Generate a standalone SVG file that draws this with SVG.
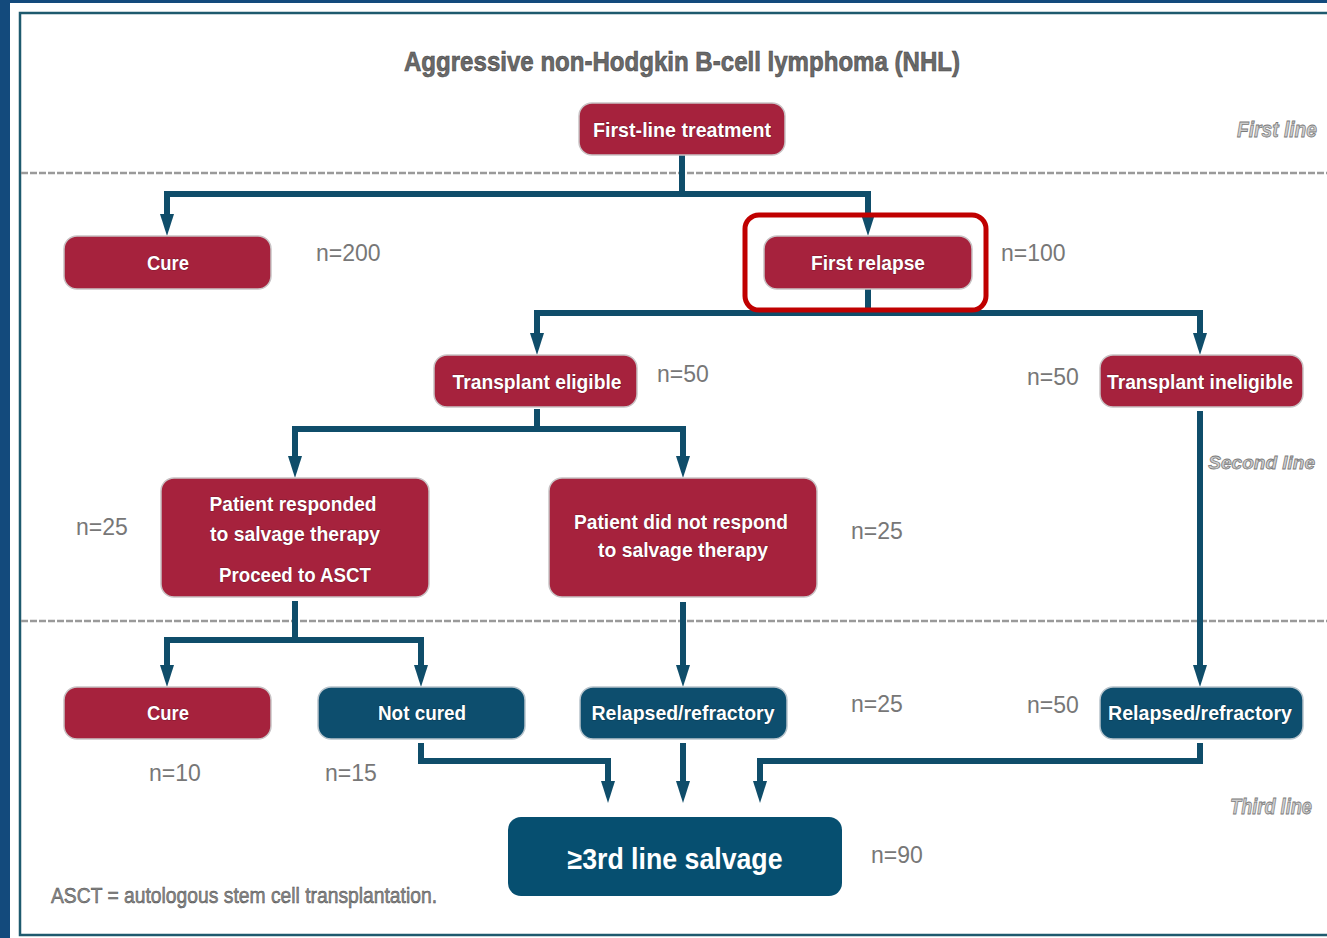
<svg xmlns="http://www.w3.org/2000/svg" width="1327" height="938" viewBox="0 0 1327 938">
<defs>
<marker id="arr" markerUnits="userSpaceOnUse" markerWidth="24" markerHeight="16" viewBox="0 -8 24 16" refX="0" refY="0" orient="auto">
<path d="M0,-7 L22,0 L0,7 z" fill="#0f4d6a"/>
</marker>
<style>
.red{fill:#a6223d;stroke:#c9c3c5;stroke-width:1.5}
.blue{fill:#0d4e6e;stroke:#b8c4cc;stroke-width:1.5}
.bt{font-family:"Liberation Sans",Arial,sans-serif;font-weight:bold;font-size:21px;fill:#fff;text-anchor:middle;stroke:#5a1020;stroke-width:1.2;paint-order:stroke;stroke-opacity:0.55}
.bb{stroke:#06283a}
.n{font-family:"Liberation Sans",Arial,sans-serif;font-size:23px;fill:#777}
.side{font-family:"Liberation Sans",Arial,sans-serif;font-weight:bold;font-style:italic;font-size:22px;fill:#cfcfcf;stroke:#7a7a7a;stroke-width:0.8;text-anchor:end}
.dash{stroke:#9a9a9a;stroke-width:2.5;stroke-dasharray:7 2;fill:none}
.con{fill:none;stroke:#0f4d6a;stroke-width:6;stroke-linejoin:miter}
</style>
</defs>
<rect x="0" y="0" width="1327" height="938" fill="#134a7c"/>
<rect x="10" y="3" width="1317" height="935" fill="#fff"/>
<rect x="20" y="13" width="1320" height="922" fill="none" stroke="#1e5a6e" stroke-width="2.5"/>

<text x="682" y="71" font-family="Liberation Sans, Arial, sans-serif" font-weight="bold" font-size="28" fill="#6a6a6a" stroke="#444" stroke-width="0.6" text-anchor="middle" textLength="556" lengthAdjust="spacingAndGlyphs">Aggressive non-Hodgkin B-cell lymphoma (NHL)</text>

<line class="dash" x1="21" y1="173" x2="1327" y2="173"/>
<line class="dash" x1="21" y1="621" x2="1327" y2="621"/>

<text class="side" x="1317" y="137" textLength="80" lengthAdjust="spacingAndGlyphs">First line</text>
<text class="side" x="1315" y="469" style="font-size:19px">Second line</text>
<text class="side" x="1312" y="814" textLength="82" lengthAdjust="spacingAndGlyphs">Third line</text>

<g id="connectors">
<path class="con" d="M682,155 V194 H167 V214" marker-end="url(#arr)"/>
<path class="con" d="M682,194 H868 V214" marker-end="url(#arr)"/>
<path class="con" d="M868,289 V313 H537 V333" marker-end="url(#arr)"/>
<path class="con" d="M868,313 H1200 V333" marker-end="url(#arr)"/>
<path class="con" d="M537,409 V429 H295 V456" marker-end="url(#arr)"/>
<path class="con" d="M537,429 H683 V456" marker-end="url(#arr)"/>
<path class="con" d="M295,601 V640 H167 V665" marker-end="url(#arr)"/>
<path class="con" d="M295,640 H421 V665" marker-end="url(#arr)"/>
<path class="con" d="M683,602 V665" marker-end="url(#arr)"/>
<path class="con" d="M1200,411 V665" marker-end="url(#arr)"/>
<path class="con" d="M421,743 V761 H608 V781" marker-end="url(#arr)"/>
<path class="con" d="M683,743 V781" marker-end="url(#arr)"/>
<path class="con" d="M1200,743 V761 H760 V781" marker-end="url(#arr)"/>
</g>

<g id="first-line">
<rect class="red" x="579" y="103" width="206" height="52" rx="13"/>
<text class="bt" x="682" y="137" textLength="178" lengthAdjust="spacingAndGlyphs">First-line treatment</text>
</g>
<g id="cure1">
<rect class="red" x="64" y="236" width="207" height="53" rx="13"/>
<text class="bt" x="168" y="270" textLength="42" lengthAdjust="spacingAndGlyphs">Cure</text>
</g>
<text class="n" x="316" y="261">n=200</text>
<g id="first-relapse">
<rect class="red" x="764" y="236" width="208" height="53" rx="13"/>
<text class="bt" x="868" y="270" textLength="114" lengthAdjust="spacingAndGlyphs">First relapse</text>
<rect x="745" y="215" width="241" height="95" rx="14" fill="none" stroke="#c00000" stroke-width="5"/>
</g>
<text class="n" x="1001" y="261">n=100</text>
<g id="transplant-eligible">
<rect class="red" x="434" y="355" width="203" height="52" rx="13"/>
<text class="bt" x="537" y="389" textLength="169" lengthAdjust="spacingAndGlyphs">Transplant eligible</text>
</g>
<text class="n" x="657" y="382">n=50</text>
<g id="transplant-ineligible">
<rect class="red" x="1100" y="355" width="203" height="52" rx="13"/>
<text class="bt" x="1200" y="389" textLength="186" lengthAdjust="spacingAndGlyphs">Transplant ineligible</text>
</g>
<text class="n" x="1027" y="385">n=50</text>
<g id="responded">
<rect class="red" x="161" y="478" width="268" height="119" rx="13"/>
<text class="bt" x="293" y="511" textLength="167" lengthAdjust="spacingAndGlyphs">Patient responded</text>
<text class="bt" x="295" y="541" textLength="170" lengthAdjust="spacingAndGlyphs">to salvage therapy</text>
<text class="bt" x="295" y="582" textLength="152" lengthAdjust="spacingAndGlyphs">Proceed to ASCT</text>
</g>
<text class="n" x="76" y="535">n=25</text>
<g id="not-responded">
<rect class="red" x="549" y="478" width="268" height="119" rx="13"/>
<text class="bt" x="681" y="529" textLength="214" lengthAdjust="spacingAndGlyphs">Patient did not respond</text>
<text class="bt" x="683" y="557" textLength="170" lengthAdjust="spacingAndGlyphs">to salvage therapy</text>
</g>
<text class="n" x="851" y="539">n=25</text>
<g id="cure2">
<rect class="red" x="64" y="687" width="207" height="52" rx="13"/>
<text class="bt" x="168" y="720" textLength="42" lengthAdjust="spacingAndGlyphs">Cure</text>
</g>
<text class="n" x="149" y="781">n=10</text>
<g id="not-cured">
<rect class="blue" x="318" y="687" width="207" height="52" rx="13"/>
<text class="bt bb" x="422" y="720" textLength="88" lengthAdjust="spacingAndGlyphs">Not cured</text>
</g>
<text class="n" x="325" y="781">n=15</text>
<g id="relapsed1">
<rect class="blue" x="580" y="687" width="207" height="52" rx="13"/>
<text class="bt bb" x="683" y="720" textLength="183" lengthAdjust="spacingAndGlyphs">Relapsed/refractory</text>
</g>
<text class="n" x="851" y="712">n=25</text>
<g id="relapsed2">
<rect class="blue" x="1100" y="687" width="203" height="52" rx="13"/>
<text class="bt bb" x="1200" y="720" textLength="184" lengthAdjust="spacingAndGlyphs">Relapsed/refractory</text>
</g>
<text class="n" x="1027" y="713">n=50</text>
<g id="salvage">
<rect x="508" y="817" width="334" height="79" rx="13" fill="#064f70"/>
<text x="675" y="869" font-family="Liberation Sans, Arial, sans-serif" font-weight="bold" font-size="29" fill="#fff" text-anchor="middle" textLength="215" lengthAdjust="spacingAndGlyphs">≥3rd line salvage</text>
</g>
<text class="n" x="871" y="863">n=90</text>

<text x="51" y="903" font-family="Liberation Sans, Arial, sans-serif" font-size="22" fill="#8a8a8a" stroke="#4a4a4a" stroke-width="0.5" textLength="386" lengthAdjust="spacingAndGlyphs">ASCT = autologous stem cell transplantation.</text>
</svg>
